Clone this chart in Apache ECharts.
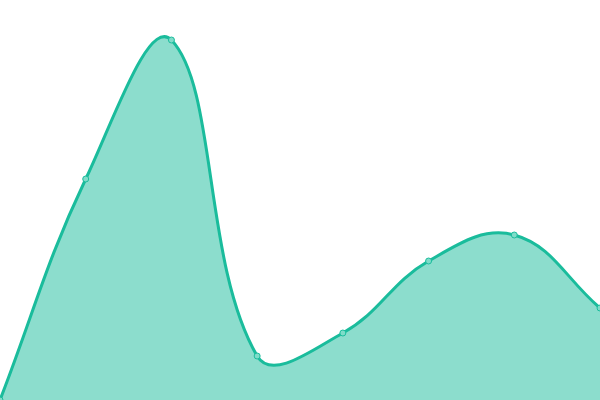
<!DOCTYPE html>
<html><head><meta charset="utf-8">
<script src="https://cdn.jsdelivr.net/npm/echarts@6/dist/echarts.min.js"></script>
<style>html,body{margin:0;padding:0;background:#fff}#c{width:600px;height:400px}</style>
</head><body><div id="c"></div>
<script>
const categories = ['A','B','C','D','E','F','G','H'];
const values = [0, 221, 360, 44, 67, 139, 165, 92];
const TENSION = 0.4;

function splinePath(pts) {
  // Cardinal-style spline (distance-weighted), like Chart.js tension
  const cps = pts.map((p, i) => {
    const prev = pts[i - 1] || p, next = pts[i + 1] || p;
    const d01 = Math.hypot(p[0] - prev[0], p[1] - prev[1]);
    const d12 = Math.hypot(next[0] - p[0], next[1] - p[1]);
    let s01 = d01 / (d01 + d12 || 1), s12 = d12 / (d01 + d12 || 1);
    const fa = TENSION * s01, fb = TENSION * s12;
    return {
      prev: [p[0] - fa * (next[0] - prev[0]), p[1] - fa * (next[1] - prev[1])],
      next: [p[0] + fb * (next[0] - prev[0]), p[1] + fb * (next[1] - prev[1])]
    };
  });
  let d = 'M' + pts[0][0] + ' ' + pts[0][1];
  for (let i = 1; i < pts.length; i++) {
    const a = cps[i - 1].next, b = cps[i].prev, p = pts[i];
    d += ' C' + a[0] + ' ' + a[1] + ' ' + b[0] + ' ' + b[1] + ' ' + p[0] + ' ' + p[1];
  }
  return d;
}

const chart = echarts.init(document.getElementById('c'));
chart.setOption({
  animation: false,
  grid: {left: 0, right: 0, top: 0, bottom: 0},
  xAxis: {type: 'category', data: categories, boundaryGap: false, show: false},
  yAxis: {type: 'value', min: 0, max: 400, show: false},
  series: [{
    type: 'custom',
    coordinateSystem: 'cartesian2d',
    data: [[0, 0]],
    clip: true,
    renderItem: function (params, api) {
      const pts = values.map((v, i) => api.coord([i, v]));
      const base = api.coord([0, 0])[1];
      const line = splinePath(pts);
      const area = line + ' L' + pts[pts.length - 1][0] + ' ' + base + ' L' + pts[0][0] + ' ' + base + ' Z';
      return {
        type: 'group',
        children: [
          {type: 'path', shape: {pathData: area}, style: {fill: 'rgba(26,188,156,0.5)', stroke: null}},
          {type: 'path', shape: {pathData: line}, style: {fill: null, stroke: '#1abc9c', lineWidth: 3}}
        ]
      };
    }
  }, {
    type: 'line',
    data: values,
    symbol: 'circle',
    symbolSize: 6,
    z: 5,
    itemStyle: {color: '#7fdcc9', borderColor: '#1abc9c', borderWidth: 1},
    lineStyle: {opacity: 0}
  }]
});
</script></body></html>
